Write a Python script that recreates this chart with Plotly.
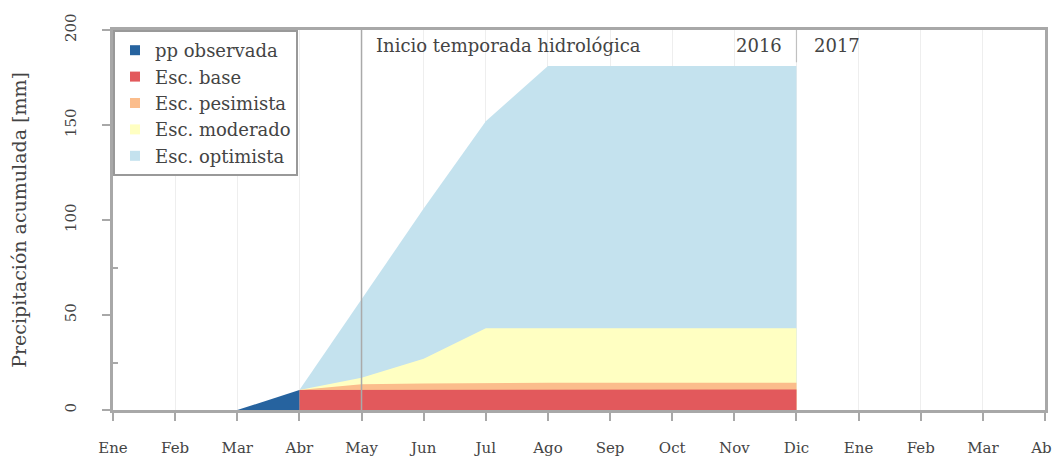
import plotly.graph_objects as go

month_labels = ["Ene", "Feb", "Mar", "Abr", "May", "Jun", "Jul", "Ago",
                "Sep", "Oct", "Nov", "Dic", "Ene", "Feb", "Mar", "Abr"]
month_pos = list(range(len(month_labels)))

obs_x = [2, 3]
obs_y = [0, 10.5]

esc_x = [3, 4, 5, 6, 7, 8, 9, 10, 11]
esc_base = [10.5, 10.5, 10.7, 10.8, 10.8, 10.8, 10.8, 10.8, 10.8]
esc_pesimista = [10.5, 13.5, 14.0, 14.3, 14.3, 14.3, 14.3, 14.3, 14.3]
esc_moderado = [10.5, 17, 27, 43, 43, 43, 43, 43, 43]
esc_optimista = [10.5, 58, 106, 152, 181, 181, 181, 181, 181]

inicio_idx = 4
year_sep_idx = 11

c_obs = "#26639f"
c_base = "#e2595c"
c_pes = "#fbbd8c"
c_mod = "#ffffc2"
c_opt = "#c4e2ee"

font_family = "DejaVu Serif, Liberation Serif, serif"

fig = go.Figure()

for name, ys, col in [("Esc. optimista", esc_optimista, c_opt),
                      ("Esc. moderado", esc_moderado, c_mod),
                      ("Esc. pesimista", esc_pesimista, c_pes),
                      ("Esc. base", esc_base, c_base)]:
    fig.add_trace(go.Scatter(x=esc_x, y=ys, mode="lines", fill="tozeroy",
                             fillcolor=col, line=dict(width=0, color=col),
                             showlegend=False, name=name))
fig.add_trace(go.Scatter(x=obs_x, y=obs_y, mode="lines", fill="tozeroy",
                         fillcolor=c_obs, line=dict(width=0, color=c_obs),
                         showlegend=False, name="pp observada"))

for name, col in [("pp observada", c_obs), ("Esc. base", c_base),
                  ("Esc. pesimista", c_pes), ("Esc. moderado", c_mod),
                  ("Esc. optimista", c_opt)]:
    fig.add_trace(go.Scatter(x=[None], y=[None], mode="markers", name=name,
                             marker=dict(symbol="square", size=10, color=col)))

fig.add_shape(type="line", xref="x", yref="paper", x0=inicio_idx, x1=inicio_idx,
              y0=0, y1=1, line=dict(color="#aaaaaa", width=1.5), layer="above")
fig.add_shape(type="line", xref="x", yref="paper", x0=year_sep_idx, x1=year_sep_idx,
              y0=0.915, y1=1, line=dict(color="#c0c0c0", width=1.2), layer="above")

ann_font = dict(family=font_family, size=18, color="#444")
fig.add_annotation(x=inicio_idx + 0.2, y=1, xref="x", yref="paper",
                   text="Inicio temporada hidrológica", showarrow=False,
                   xanchor="left", yanchor="top", yshift=-3, font=ann_font)
fig.add_annotation(x=year_sep_idx - 0.2, y=1, xref="x", yref="paper",
                   text="2016", showarrow=False, xanchor="right", yanchor="top",
                   yshift=-3, font=ann_font)
fig.add_annotation(x=year_sep_idx + 0.25, y=1, xref="x", yref="paper",
                   text="2017", showarrow=False, xanchor="left", yanchor="top",
                   yshift=-3, font=ann_font)

fig.update_layout(
    width=1052, height=451,
    margin=dict(l=105, r=15, t=22, b=49),
    paper_bgcolor="white", plot_bgcolor="white",
    font=dict(family=font_family, size=15, color="#444"),
    legend=dict(x=0, y=1, xanchor="left", yanchor="top",
                bgcolor="white", bordercolor="#999", borderwidth=2,
                font=dict(family=font_family, size=18, color="#444"),
                itemwidth=30),
    xaxis=dict(range=[0, 15], tickmode="array", tickvals=month_pos,
               ticktext=month_labels, showgrid=True, gridcolor="#eeeeee",
               gridwidth=1, showline=True, linecolor="#a8a8a8", linewidth=2.5,
               mirror=True, ticks="outside", ticklen=8, tickcolor="#a8a8a8",
               tickwidth=1.5, ticklabelstandoff=14, zeroline=False,
               automargin=False, tickfont=dict(size=15)),
    yaxis=dict(range=[0, 200], tickvals=[0, 50, 100, 150, 200],
               showgrid=False, showline=True, linecolor="#a8a8a8", linewidth=2.5,
               mirror=True, ticks="outside", ticklen=8, tickcolor="#a8a8a8",
               tickwidth=1.5, tickangle=-90, ticklabelstandoff=20, zeroline=False,
               automargin=False,
               minor=dict(tickvals=[25, 75, 125, 175], ticks="inside", ticklen=5,
                          tickcolor="#a8a8a8"),
               title=dict(text="Precipitación acumulada [mm]", standoff=32,
                          font=dict(size=19)),
               tickfont=dict(size=15)),
)

fig.write_html("out.html")
